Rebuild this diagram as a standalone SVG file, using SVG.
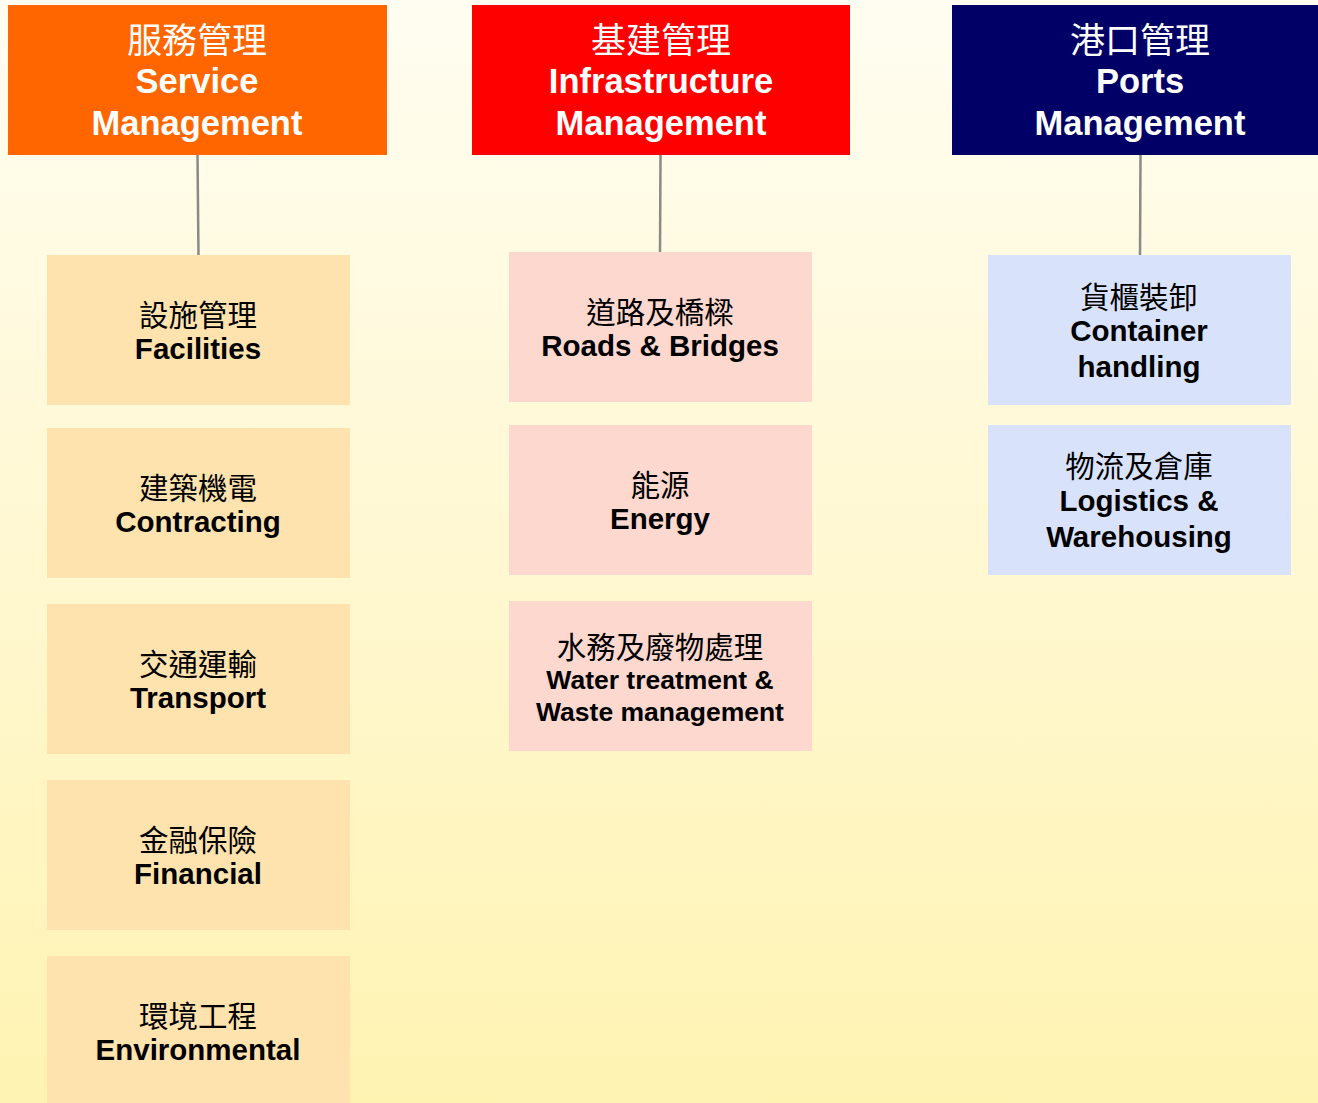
<svg xmlns="http://www.w3.org/2000/svg" width="1318" height="1103" viewBox="0 0 1318 1103">
<defs>
<linearGradient id="bg" x1="0" y1="0" x2="0" y2="1">
<stop offset="0" stop-color="#FFFDF1"/>
<stop offset="1" stop-color="#FFF3B2"/>
</linearGradient>
<style>
text{font-family:"Liberation Sans","Noto Sans CJK TC",sans-serif;text-anchor:middle}
.hz{font-size:35px;fill:#fff}
.he{font-size:34.5px;font-weight:bold;fill:#fff}
.nz{font-size:29.5px;fill:#000}
.ne{font-size:29.5px;font-weight:bold;fill:#000}
.ns{font-size:26.5px;font-weight:bold;fill:#000}
.svc{fill:#FFE3AE}
.inf{fill:#FDD8CF}
.prt{fill:#D8E3FB}
.conn line{stroke:#8A8A8A;stroke-width:2.5}
</style>
</defs>
<rect x="0" y="0" width="1318" height="1103" fill="url(#bg)"/>
<g class="conn" id="connectors">
<line x1="197.5" y1="155" x2="198.5" y2="256"/>
<line x1="660.5" y1="155" x2="660" y2="253"/>
<line x1="1140.5" y1="155" x2="1140" y2="256"/>
</g>
<g id="h-service">
<rect x="8" y="5" width="379" height="150" fill="#FF6600"/>
<text x="197" y="53" class="hz">服務管理</text>
<text x="197" y="93" class="he">Service</text>
<text x="197" y="135" class="he">Management</text>
</g>
<g id="h-infra">
<rect x="472" y="5" width="378" height="150" fill="#FF0000"/>
<text x="661" y="53" class="hz">基建管理</text>
<text x="661" y="93" class="he">Infrastructure</text>
<text x="661" y="135" class="he">Management</text>
</g>
<g id="h-ports">
<rect x="952" y="5" width="366" height="150" fill="#000066"/>
<text x="1140" y="53" class="hz">港口管理</text>
<text x="1140" y="93" class="he">Ports</text>
<text x="1140" y="135" class="he">Management</text>
</g>
<g id="n-facilities">
<rect x="47" y="255" width="303" height="150" class="svc"/>
<text x="198" y="326" class="nz">設施管理</text>
<text x="198" y="359" class="ne">Facilities</text>
</g>
<g id="n-contracting">
<rect x="47" y="428" width="303" height="150" class="svc"/>
<text x="198" y="499" class="nz">建築機電</text>
<text x="198" y="532" class="ne">Contracting</text>
</g>
<g id="n-transport">
<rect x="47" y="604" width="303" height="150" class="svc"/>
<text x="198" y="675" class="nz">交通運輸</text>
<text x="198" y="708" class="ne">Transport</text>
</g>
<g id="n-financial">
<rect x="47" y="780" width="303" height="150" class="svc"/>
<text x="198" y="851" class="nz">金融保險</text>
<text x="198" y="884" class="ne">Financial</text>
</g>
<g id="n-environmental">
<rect x="47" y="956" width="303" height="150" class="svc"/>
<text x="198" y="1027" class="nz">環境工程</text>
<text x="198" y="1060" class="ne">Environmental</text>
</g>
<g id="n-roads">
<rect x="509" y="252" width="303" height="150" class="inf"/>
<text x="660" y="323" class="nz">道路及橋樑</text>
<text x="660" y="356" class="ne">Roads &amp; Bridges</text>
</g>
<g id="n-energy">
<rect x="509" y="425" width="303" height="150" class="inf"/>
<text x="660" y="496" class="nz">能源</text>
<text x="660" y="529" class="ne">Energy</text>
</g>
<g id="n-water">
<rect x="509" y="601" width="303" height="150" class="inf"/>
<text x="660" y="658" class="nz">水務及廢物處理</text>
<text x="660" y="689" class="ns">Water treatment &amp;</text>
<text x="660" y="721" class="ns">Waste management</text>
</g>
<g id="n-container">
<rect x="988" y="255" width="303" height="150" class="prt"/>
<text x="1139" y="308" class="nz">貨櫃裝卸</text>
<text x="1139" y="341" class="ne">Container</text>
<text x="1139" y="377" class="ne">handling</text>
</g>
<g id="n-logistics">
<rect x="988" y="425" width="303" height="150" class="prt"/>
<text x="1139" y="477" class="nz">物流及倉庫</text>
<text x="1139" y="511" class="ne">Logistics &amp;</text>
<text x="1139" y="547" class="ne">Warehousing</text>
</g>
</svg>
